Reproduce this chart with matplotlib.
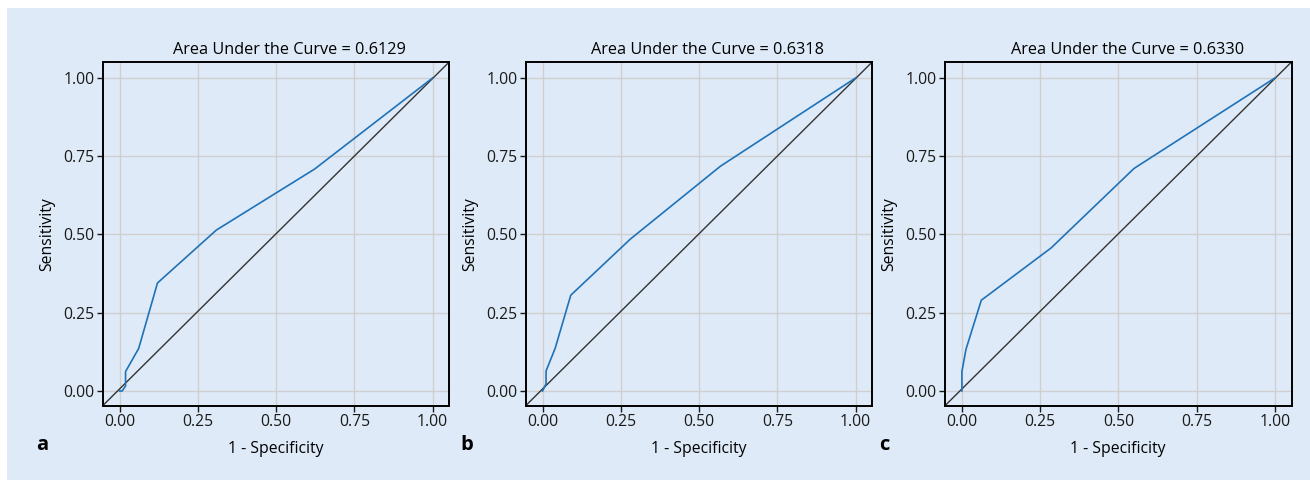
import numpy as np
import matplotlib
matplotlib.use('Agg')
from matplotlib import pyplot as plt

# ROC curves (1 - specificity, sensitivity)
fpr_a = [0.0, 0.008, 0.019, 0.019, 0.061, 0.121, 0.309, 0.623, 1.0]
tpr_a = [0.0, 0.0, 0.016, 0.062, 0.136, 0.345, 0.514, 0.709, 1.0]
fpr_b = [0.0, 0.011, 0.011, 0.040, 0.090, 0.280, 0.568, 1.0]
tpr_b = [0.0, 0.023, 0.064, 0.136, 0.306, 0.485, 0.718, 1.0]
fpr_c = [0.0, 0.0, 0.013, 0.062, 0.285, 0.550, 1.0]
tpr_c = [0.0, 0.062, 0.133, 0.290, 0.457, 0.711, 1.0]

auc_values = [0.6129, 0.6318, 0.6330]
panel_letters = ['a', 'b', 'c']
ticks = [0.0, 0.25, 0.5, 0.75, 1.0]
tick_labels = ['0.00', '0.25', '0.50', '0.75', '1.00']

BG = '#deeaf7'
LINE = '#1f72b8'
GRID = '#cfcfcf'
FS = 11.3

plt.rcParams['font.family'] = ['Open Sans', 'DejaVu Sans']

fig = plt.figure(figsize=(13.1, 4.8), dpi=100)
fig.patch.set_facecolor('white')
# light blue panel with a thin white margin top/left
bg = plt.Rectangle((7 / 1310, 0), 1, 1 - 8 / 480, transform=fig.transFigure,
                   facecolor=BG, edgecolor='none', zorder=-10)
fig.add_artist(bg)

curves = [(fpr_a, tpr_a), (fpr_b, tpr_b), (fpr_c, tpr_c)]
lefts = [102.7, 525.7, 945.0]
title_x = [0.54, 0.525, 0.526]
letter_x = [42.5, 467, 884]

for i, (fpr, tpr) in enumerate(curves):
    ax = fig.add_axes([lefts[i] / 1310, 1 - 405.7 / 480, 346.5 / 1310, 343.7 / 480])
    ax.set_facecolor(BG)
    ax.plot([-0.054, 1.053], [-0.047, 1.051], color='#333333', lw=1.0, zorder=2)
    ax.plot(fpr, tpr, color=LINE, lw=1.2, zorder=3)
    ax.set_xlim(-0.054, 1.053)
    ax.set_ylim(-0.047, 1.051)
    ax.set_xticks(ticks)
    ax.set_xticklabels(tick_labels)
    ax.set_yticks(ticks)
    ax.set_yticklabels(tick_labels)
    ax.grid(True, color=GRID, lw=1.0, zorder=1)
    ax.set_axisbelow(True)
    for s in ax.spines.values():
        s.set_linewidth(1.4)
        s.set_color('black')
    ax.tick_params(axis='both', length=4, width=1.0, labelsize=FS, pad=2,
                   colors='#1a1a1a')
    ax.set_title('Area Under the Curve = %.4f' % auc_values[i], fontsize=11.7,
                 pad=6, x=title_x[i])
    ax.set_xlabel('1 - Specificity', fontsize=FS, labelpad=8)
    ax.set_ylabel('Sensitivity', fontsize=FS, labelpad=6)
    fig.text(letter_x[i] / 1310, 1 - 445 / 480, panel_letters[i], fontsize=14.5,
             fontweight='bold', ha='center', va='center')

fig.savefig('out.png', dpi=100, facecolor=fig.get_facecolor())
